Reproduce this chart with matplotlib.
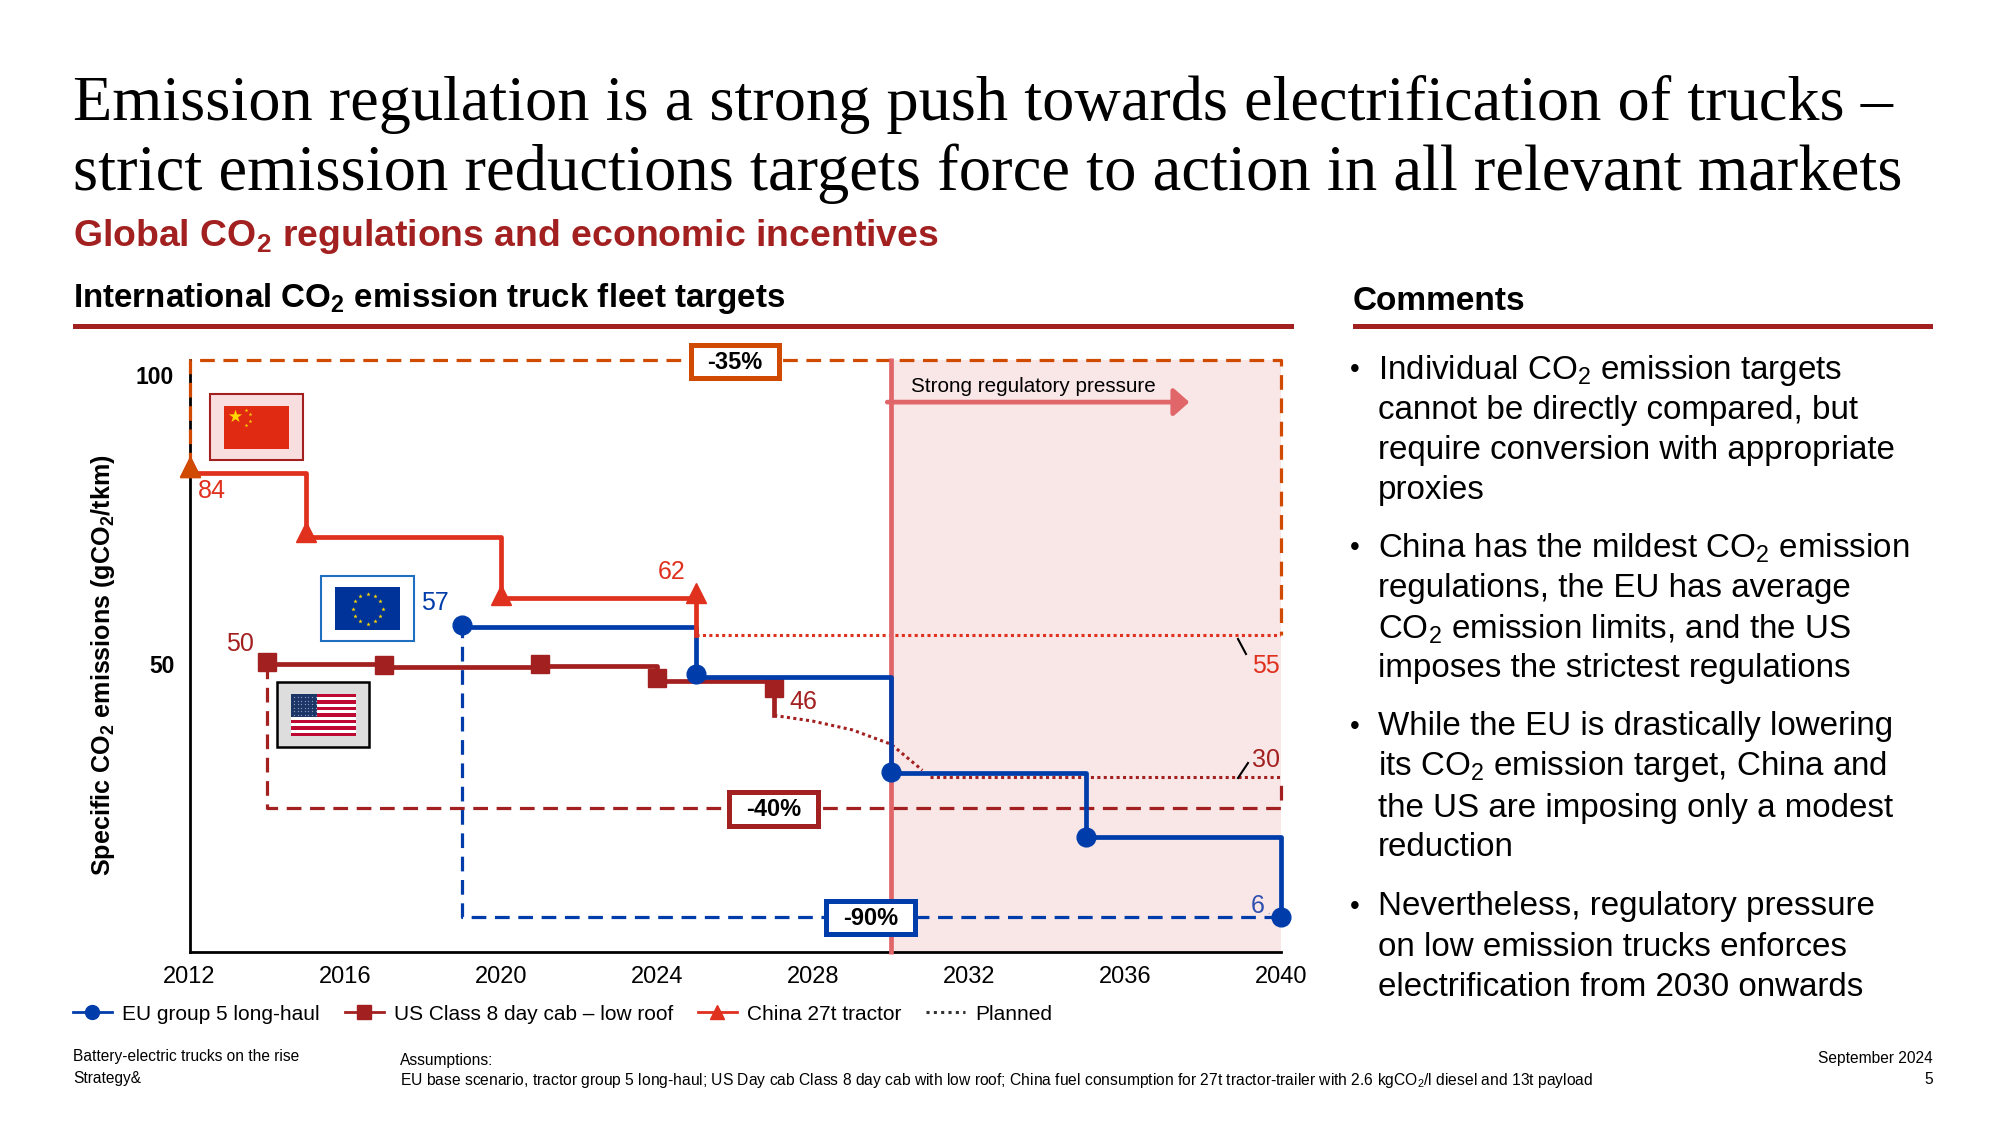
import numpy as np
import matplotlib
matplotlib.use("Agg")
import matplotlib.pyplot as plt
from matplotlib.lines import Line2D
from matplotlib.patches import Rectangle

plt.rcParams['font.family'] = ['Liberation Sans', 'DejaVu Sans']
plt.rcParams['mathtext.fontset'] = 'custom'
plt.rcParams['mathtext.rm'] = 'Liberation Sans'
plt.rcParams['mathtext.default'] = 'regular'

RED = '#E0301E'; ORANGE = '#D04A02'; DARK = '#A32020'; BLUE = '#003DAB'
SHADE = '#F9E6E6'; PRESS = '#E0666A'

eu_years = [2019, 2025, 2030, 2035, 2040]
eu_values = [56.3, 47.7, 31, 20, 6]
eu_marks = [56.7, 48.2, 31.2, 20, 6]
us_years = [2014, 2017, 2021, 2024, 2027]
us_values = [50, 49.4, 49.6, 47, 41]
us_marks = [50.3, 49.7, 50, 47.5, 45.7]
cn_years = [2012, 2015, 2020, 2025]
cn_values = [83, 72, 61.3, 55]
cn_marks = [84, 72.8, 61.9, 62.2]
cn_planned_x = [2025, 2040]
cn_planned_y = [55, 55]
us_planned_x = [2027, 2028, 2029, 2030, 2030.8]
us_planned_y = [41, 40, 38.5, 36, 31.5]
us_planned2_x = [2031, 2040]
us_planned2_y = [30.3, 30.3]
cn_box_x = [2012, 2012, 2040, 2040]
cn_box_y = [84, 102.6, 102.6, 55]
us_box_x = [2014, 2014, 2040, 2040]
us_box_y = [50, 25, 25, 30]
eu_box_x = [2019, 2019, 2040]
eu_box_y = [57, 6, 6]
xticks = [2012, 2016, 2020, 2024, 2028, 2032, 2036, 2040]
yticks = [50, 100]

fig = plt.figure(figsize=(20, 11.25), dpi=100)
W, H = 2000, 1125
L, R, T, B = 189.5, 1281, 360, 952
ax = fig.add_axes([L/W, 1-B/H, (R-L)/W, (B-T)/H])
ax.set_xlim(2012, 2040); ax.set_ylim(0, 102.6)
ax.patch.set_alpha(0)
for s in ['top', 'right']:
    ax.spines[s].set_visible(False)
for s in ['left', 'bottom']:
    ax.spines[s].set_linewidth(2); ax.spines[s].set_zorder(1.5)
ax.set_xticks(xticks); ax.set_yticks(yticks)
ax.tick_params(length=0, labelsize=17, pad=10)
ax.tick_params(axis='y', pad=11)
for t in ax.get_yticklabels():
    t.set_fontweight('bold')
    t.set_fontsize(16.5)

ax.axvspan(2030, 2040.1, color=SHADE, lw=0, zorder=0)

DASH = (0, (4.6, 2.7))
for xs, ys, c in [(cn_box_x, cn_box_y, ORANGE), (us_box_x, us_box_y, DARK), (eu_box_x, eu_box_y, BLUE)]:
    ax.plot(xs, ys, color=c, lw=2.3, ls=DASH, dash_capstyle='butt', clip_on=False, zorder=2)
DOT = (0, (1, 1.1))
ax.plot(cn_planned_x, cn_planned_y, color=RED, lw=2.2, ls=DOT, zorder=2.2)
ax.plot(us_planned_x, us_planned_y, color=DARK, lw=2.2, ls=DOT, zorder=2.2)
ax.plot(us_planned2_x, us_planned2_y, color=DARK, lw=2.2, ls=DOT, zorder=2.2)

ax.plot([2030, 2030], [-0.3, 103], color=PRESS, lw=3.4, clip_on=False, zorder=2.5, solid_capstyle='butt')
ax.annotate('', xy=(2037.65, 95.3), xytext=(2029.9, 95.3),
            arrowprops=dict(arrowstyle='-|>,head_width=0.83,head_length=0.94', color=PRESS, lw=3.4, shrinkA=0, shrinkB=0), zorder=2.6)

ax.step(us_years, us_values, where='post', color=DARK, lw=3.4, zorder=3)
ax.plot(us_years, us_marks, ls='', marker='s', ms=13.5, color=DARK, zorder=3.1)
ax.step(eu_years, eu_values, where='post', color=BLUE, lw=3.4, zorder=3.3, clip_on=False)
ax.plot(eu_years, eu_marks, ls='', marker='o', ms=13.5, color=BLUE, zorder=3.4, clip_on=False)
ax.step(cn_years, cn_values, where='post', color=RED, lw=3.4, zorder=3.6)
ax.plot(cn_years, cn_marks, ls='', marker='^', ms=14, color=RED, zorder=3.7, clip_on=False)
ax.plot(cn_years[:1], cn_marks[:1], ls='', marker='^', ms=14, color=ORANGE, zorder=3.8, clip_on=False)

# overlay in pixel coordinates for slide furniture
ov = fig.add_axes([0, 0, 1, 1]); ov.set_xlim(0, W); ov.set_ylim(H, 0); ov.axis('off')
ov.patch.set_alpha(0); ov.set_zorder(5)

def txt(x, y, s, size, **kw):
    kw.setdefault('va', 'center'); kw.setdefault('ha', 'left'); kw.setdefault('color', 'black')
    return ov.text(x, y, s, fontsize=size, **kw)

SERIF = 'Liberation Serif'
txt(73, 104, 'Emission regulation is a strong push towards electrification of trucks –', 46.3, family=SERIF)
txt(73, 174, 'strict emission reductions targets force to action in all relevant markets', 46.5, family=SERIF)
txt(73, 236, 'Global CO$_2$ regulations and economic incentives', 26.9, color=DARK, fontweight='bold')
txt(73, 298, 'International CO$_2$ emission truck fleet targets', 23.9, fontweight='bold')
txt(1353, 301, 'Comments', 24, fontweight='bold')
ov.add_patch(Rectangle((73, 323.5), 1221, 5, color=DARK, lw=0))
ov.add_patch(Rectangle((1353, 323.5), 580, 5, color=DARK, lw=0))

txt(103, 665, 'Specific CO$_2$ emissions (gCO$_2$/tkm)', 18.1, fontweight='bold', rotation=90, ha='center')
txt(911, 386, 'Strong regulatory pressure', 14.9)

comments = [
    ['Individual CO$_2$ emission targets', 'cannot be directly compared, but', 'require conversion with appropriate', 'proxies'],
    ['China has the mildest CO$_2$ emission', 'regulations, the EU has average', 'CO$_2$ emission limits, and the US', 'imposes the strictest regulations'],
    ['While the EU is drastically lowering', 'its CO$_2$ emission target, China and', 'the US are imposing only a modest', 'reduction'],
    ['Nevertheless, regulatory pressure', 'on low emission trucks enforces', 'electrification from 2030 onwards'],
]
ys = [[370, 410, 450, 490], [548, 588, 629, 669], [727, 767, 808, 848], [907, 947, 987]]
for block, yy in zip(comments, ys):
    txt(1355, yy[0], '•', 20, ha='center')
    for s, y in zip(block, yy):
        txt(1378, y, s, 23.9)

# value labels
for x, y, s, c in [(212, 491, '84', RED), (672, 572, '62', RED), (435, 603, '57', BLUE), (240, 644, '50', DARK),
                   (803, 702, '46', DARK), (1266, 666, '55', RED), (1266, 760, '30', DARK), (1258, 906, '6', '#2F4FB0')]:
    txt(x, y, s, 18, color=c, ha='center')
txt(1268, 912, '.', 6, color='#2F4FB0', ha='center')
ov.plot([1238, 1246], [639, 654], color='black', lw=1.5)
ov.plot([1238, 1248], [778, 763], color='black', lw=1.5)

# change boxes
for x0, x1, y0, y1, c, s in [(691, 779, 345, 378, ORANGE, '-35%'), (729, 818, 792, 826, DARK, '-40%'), (826, 915, 901, 934, BLUE, '-90%')]:
    ov.add_patch(Rectangle((x0, y0), x1-x0, y1-y0, fc='white', ec=c, lw=3.6))
    txt((x0+x1)/2, (y0+y1)/2+1, s, 17, fontweight='bold', ha='center')

# flags
ov.add_patch(Rectangle((209.5, 393.5), 93.5, 66.5, fc='#F9DEE0', ec=DARK, lw=1.5))
ov.add_patch(Rectangle((224, 406), 65, 43, fc='#E02A12', lw=0))
ov.scatter([235], [416], marker='*', s=100, color='#FFD800', lw=0, zorder=4)
ov.scatter([246, 250, 250, 246], [410, 414, 421, 425], marker='*', s=8, color='#FFD800', lw=0, zorder=4)

ov.add_patch(Rectangle((321, 576), 93, 65, fc='white', ec='#1E6FBF', lw=1.5))
ov.add_patch(Rectangle((335, 587), 65, 43, fc='#00339A', lw=0))
ang = np.arange(12)*np.pi/6
ov.scatter(367.5+15*np.sin(ang), 608.5+15*np.cos(ang), marker='*', s=11, color='#FFD800', lw=0, zorder=4)

ov.add_patch(Rectangle((277, 682), 92, 65, fc='#DDDDDD', ec='black', lw=1.8))
ov.add_patch(Rectangle((291, 694), 65, 42, fc='white', lw=0))
sh = 42/13
for i in range(0, 13, 2):
    ov.add_patch(Rectangle((291, 694+i*sh), 65, sh, fc='#BE0A32', lw=0))
ov.add_patch(Rectangle((291, 694), 26, 7*sh, fc='#1C3567', lw=0, zorder=3))
gx, gy = np.meshgrid(np.arange(294, 316, 3.6), np.arange(697, 716, 3.6))
ov.scatter(gx.ravel(), gy.ravel(), s=0.9, color='#8899BB', lw=0, zorder=4)

# legend
h = [Line2D([], [], color=BLUE, lw=2, marker='o', ms=10),
     Line2D([], [], color=DARK, lw=2, marker='s', ms=10),
     Line2D([], [], color=RED, lw=2, marker='^', ms=10.5),
     Line2D([], [], color='#333333', lw=2.2, ls=(0, (1, 1.4)))]
fig.legend(h, ['EU group 5 long-haul', 'US Class 8 day cab – low roof', 'China 27t tractor', 'Planned'],
           ncol=4, frameon=False, loc='center left', bbox_to_anchor=(73/W, 1-1014/H), fontsize=15,
           handlelength=1.87, handletextpad=0.48, columnspacing=1.2, borderpad=0, borderaxespad=0)

# footer
txt(73, 1057, 'Battery-electric trucks on the rise', 11.2)
txt(73, 1079, 'Strategy&', 11.2)
txt(400, 1060, 'Assumptions:', 11.2)
txt(400, 1080, 'EU base scenario, tractor group 5 long-haul; US Day cab Class 8 day cab with low roof; China fuel consumption for 27t tractor-trailer with 2.6 kgCO$_2$/l diesel and 13t payload', 11.25)
txt(1933, 1059, 'September 2024', 11.2, ha='right')
txt(1933, 1080, '5', 11.2, ha='right')

fig.savefig('out.png', dpi=100)
